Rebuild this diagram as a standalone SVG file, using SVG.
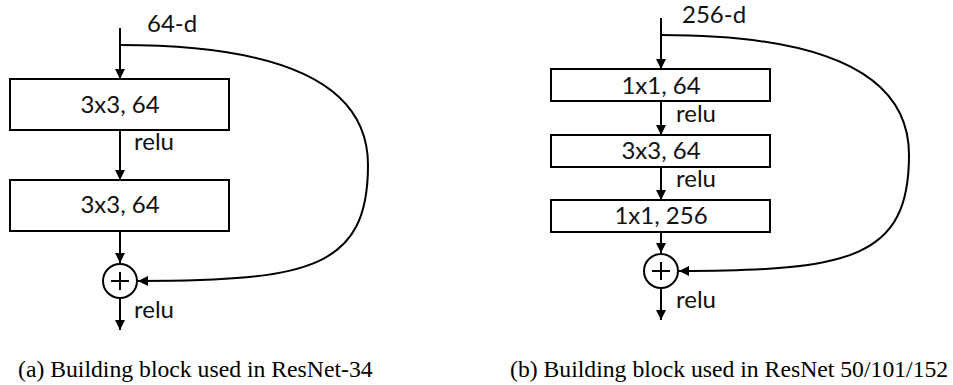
<svg xmlns="http://www.w3.org/2000/svg" width="953" height="385" viewBox="0 0 953 385">
<style>
.box{fill:#fff;stroke:#000;stroke-width:2}
.ln{fill:none;stroke:#000;stroke-width:2}
.t{font-family:Lato,"Open Sans",sans-serif;font-size:24px;fill:#111}
.c{text-anchor:middle}
.cap{font-family:"Liberation Serif","Times New Roman",serif;font-size:23.7px;fill:#000}
</style>
<defs>
<marker id="ah" viewBox="0 0 10 10" refX="10" refY="5" markerWidth="10" markerHeight="11" markerUnits="userSpaceOnUse" orient="auto">
<path d="M0,0 L10,5 L0,10 z" fill="#000"/>
</marker>
</defs>
<rect width="953" height="385" fill="#fff"/>
<g id="connectors">
<line class="ln" x1="120" y1="28" x2="120" y2="79" marker-end="url(#ah)"/>
<line class="ln" x1="120" y1="130" x2="120" y2="180" marker-end="url(#ah)"/>
<line class="ln" x1="120" y1="231" x2="120" y2="263" marker-end="url(#ah)"/>
<line class="ln" x1="120" y1="298" x2="120" y2="330" marker-end="url(#ah)"/>
<path class="ln" d="M120,45 C290,45 368,88 368,165 C368,268 310,281 138,281" marker-end="url(#ah)"/>
<line class="ln" x1="661" y1="18" x2="661" y2="69" marker-end="url(#ah)"/>
<line class="ln" x1="661" y1="101" x2="661" y2="135" marker-end="url(#ah)"/>
<line class="ln" x1="661" y1="167" x2="661" y2="200" marker-end="url(#ah)"/>
<line class="ln" x1="661" y1="232" x2="661" y2="253" marker-end="url(#ah)"/>
<line class="ln" x1="661" y1="288" x2="661" y2="320" marker-end="url(#ah)"/>
<path class="ln" d="M661,35 C831,35 909,78 909,155 C909,258 851,271 679,271" marker-end="url(#ah)"/>
</g>
<g id="a-input"><text class="t" x="147" y="32">64-d</text></g>
<g id="a-conv1"><rect class="box" x="10" y="79" width="219" height="51"/><text class="t c" x="120" y="113">3x3, 64</text></g>
<g id="a-relu1"><text class="t" x="134" y="150">relu</text></g>
<g id="a-conv2"><rect class="box" x="10" y="180" width="219" height="51"/><text class="t c" x="120" y="213">3x3, 64</text></g>
<g id="a-add"><circle class="ln" cx="120" cy="281" r="17"/><path class="ln" d="M111,281 H129 M120,272 V290"/></g>
<g id="a-relu2"><text class="t" x="134" y="318">relu</text></g>
<g id="b-input"><text class="t" x="682" y="23">256-d</text></g>
<g id="b-conv1"><rect class="box" x="551" y="69" width="219" height="32"/><text class="t c" x="661" y="94">1x1, 64</text></g>
<g id="b-relu1"><text class="t" x="676" y="122">relu</text></g>
<g id="b-conv2"><rect class="box" x="551" y="135" width="219" height="32"/><text class="t c" x="661" y="159">3x3, 64</text></g>
<g id="b-relu2"><text class="t" x="676" y="187">relu</text></g>
<g id="b-conv3"><rect class="box" x="551" y="200" width="219" height="32"/><text class="t c" x="661" y="224">1x1, 256</text></g>
<g id="b-add"><circle class="ln" cx="661" cy="271" r="17"/><path class="ln" d="M652,271 H670 M661,262 V280"/></g>
<g id="b-relu3"><text class="t" x="676" y="308">relu</text></g>
<g id="captions">
<text class="cap" x="18" y="377">(a) Building block used in ResNet-34</text>
<text class="cap" x="510" y="377">(b) Building block used in ResNet 50/101/152</text>
</g>
</svg>
